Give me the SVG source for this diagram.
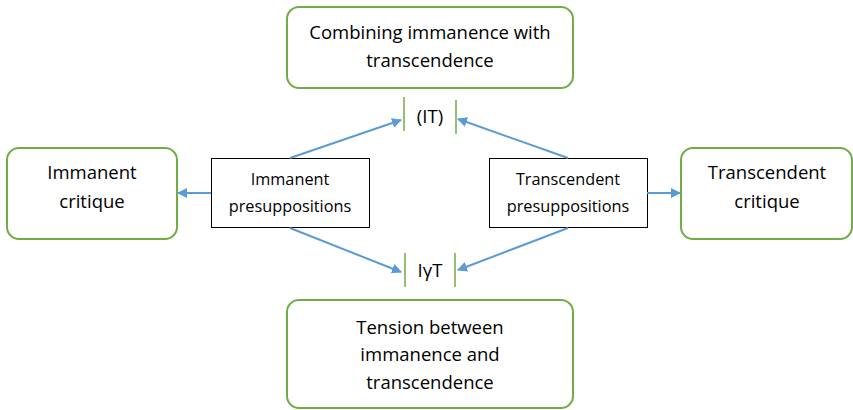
<svg xmlns="http://www.w3.org/2000/svg" width="853" height="410" viewBox="0 0 853 410">
<style>
.g{fill:#fff;stroke:#70AD47;stroke-width:2}
.b{fill:#fff;stroke:#000;stroke-width:1}
.v{stroke:#70AD47;stroke-width:1.5}
.t{font-family:"Open Sans","Liberation Sans",sans-serif;font-size:18.5px;fill:#000;text-anchor:middle}
.s{font-family:"Open Sans","Liberation Sans",sans-serif;font-size:16.3px;fill:#000;text-anchor:middle}
.c{stroke:#5B9BD5;stroke-width:2;fill:none;marker-end:url(#a)}
</style>
<defs>
<marker id="a" viewBox="0 0 10 10" refX="9" refY="5" markerWidth="5" markerHeight="5" orient="auto" markerUnits="strokeWidth">
<path d="M0,0 L10,5 L0,10 z" fill="#5B9BD5"/>
</marker>
</defs>
<g id="top"><rect class="g" x="287" y="7" width="286" height="81" rx="12"/>
<text class="t" x="430" y="39">Combining immanence with</text>
<text class="t" x="430" y="67">transcendence</text></g>
<g id="bottom"><rect class="g" x="287" y="300" width="286" height="108" rx="12"/>
<text class="t" x="430" y="334">Tension between</text>
<text class="t" x="430" y="361">immanence and</text>
<text class="t" x="430" y="389">transcendence</text></g>
<g id="left"><rect class="g" x="7" y="148" width="170" height="91" rx="12"/>
<text class="t" x="92" y="179">Immanent</text>
<text class="t" x="92" y="208">critique</text></g>
<g id="right"><rect class="g" x="681" y="148" width="171" height="91" rx="12"/>
<text class="t" x="767" y="179">Transcendent</text>
<text class="t" x="767" y="208">critique</text></g>
<g id="imm"><rect class="b" x="211.5" y="158.5" width="158" height="69"/>
<text class="s" x="290" y="185">Immanent</text>
<text class="s" x="290" y="212">presuppositions</text></g>
<g id="tra"><rect class="b" x="489.5" y="158.5" width="158" height="69"/>
<text class="s" x="568" y="185">Transcendent</text>
<text class="s" x="568" y="212">presuppositions</text></g>
<g id="it"><line class="v" x1="404" y1="97" x2="404" y2="131"/><line class="v" x1="456" y1="100" x2="456" y2="134"/>
<text class="t" x="430" y="123">(IT)</text></g>
<g id="iyt"><line class="v" x1="405" y1="253" x2="405" y2="287"/><line class="v" x1="455" y1="253" x2="455" y2="287"/>
<text class="t" x="430" y="277">IγT</text></g>
<g id="connectors">
<line class="c" x1="290" y1="158" x2="401" y2="120"/>
<line class="c" x1="568" y1="158" x2="458" y2="119"/>
<line class="c" x1="290" y1="228" x2="401" y2="272"/>
<line class="c" x1="568" y1="228" x2="458" y2="270"/>
<line class="c" x1="211" y1="193" x2="178" y2="193"/>
<line class="c" x1="647" y1="193" x2="680" y2="193"/>
</g>
</svg>
